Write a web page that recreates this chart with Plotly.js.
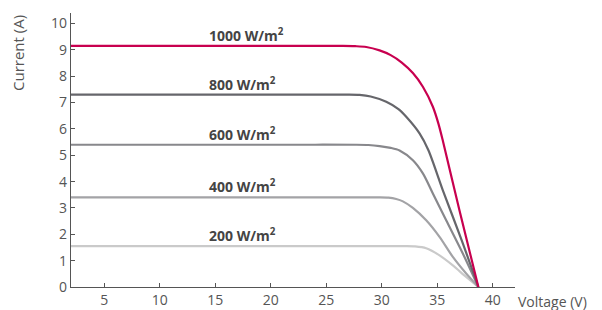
<!DOCTYPE html>
<html>
<head>
<meta charset="utf-8">
<script src="https://cdn.plot.ly/plotly-3.0.1.min.js"></script>
<style>html,body{margin:0;padding:0;background:#fff;}#chart{width:602px;height:310px;}</style>
</head>
<body>
<div id="chart"></div>
<script>
// Data (Voltage V, Current A)
const seriesNames = ["1000 W/m<sup>2</sup>", "800 W/m<sup>2</sup>", "600 W/m<sup>2</sup>", "400 W/m<sup>2</sup>", "200 W/m<sup>2</sup>"];
const v1000 = [2, 24, 26.5, 27.6, 28.6, 29.8, 30.8, 31.8, 32.8, 33.7, 34.6, 35.1, 35.5, 37.0, 38.7];
const i1000 = [9.15, 9.15, 9.15, 9.14, 9.11, 8.98, 8.80, 8.52, 8.12, 7.6, 6.84, 6.2, 5.55, 2.9, 0];
const v800 = [2, 24, 26.8, 28.0, 29.0, 30.4, 31.5, 32.2, 33.4, 34.2, 35.5, 37.2, 38.7];
const i800 = [7.3, 7.3, 7.3, 7.29, 7.23, 7.03, 6.75, 6.46, 5.83, 5.19, 3.67, 1.77, 0];
const v600 = [2, 24, 27.6, 28.8, 29.8, 30.8, 31.6, 32.8, 33.7, 34.6, 35.8, 37.3, 38.7];
const i600 = [5.4, 5.4, 5.4, 5.39, 5.35, 5.28, 5.18, 4.81, 4.31, 3.55, 2.53, 1.27, 0];
const v400 = [2, 26, 29.6, 30.6, 31.3, 31.9, 32.8, 34.0, 35.2, 36.4, 37.6, 38.7];
const i400 = [3.4, 3.4, 3.4, 3.39, 3.34, 3.25, 3.0, 2.53, 1.90, 1.14, 0.51, 0];
const v200 = [2, 28, 32.0, 33.0, 34.0, 35.2, 36.4, 37.6, 38.7];
const i200 = [1.55, 1.55, 1.55, 1.54, 1.47, 1.20, 0.82, 0.38, 0];
const xTicks = [5, 10, 15, 20, 25, 30, 35, 40];
const yTicks = [0, 1, 2, 3, 4, 5, 6, 7, 8, 9, 10];

const volts = [v1000, v800, v600, v400, v200];
const amps = [i1000, i800, i600, i400, i200];
const colors = ["#c8004f", "#66666b", "#88888c", "#a3a3a6", "#cacaca"];

const traces = volts.map((v, k) => ({
  x: v, y: amps[k], type: "scatter", mode: "lines",
  line: {color: colors[k], width: 2.2, shape: "spline", smoothing: 0.8},
  hoverinfo: "skip", showlegend: false
})).reverse();

const labelAnns = seriesNames.map((name, k) => ({
  x: 14.25, y: amps[k][0], xref: "x", yref: "y",
  xanchor: "left", yanchor: "bottom", yshift: -1,
  text: name, showarrow: false,
  font: {family: "Open Sans", size: 14, color: "#444", weight: "bold"}
}));

const layout = {
  width: 602, height: 310,
  margin: {l: 71, r: 87, t: 13, b: 23, pad: 0},
  paper_bgcolor: "#fff", plot_bgcolor: "#fff",
  font: {family: "Open Sans", color: "#555"},
  xaxis: {
    range: [2, 42], tickvals: xTicks, ticktext: xTicks.map(String),
    ticks: "inside", ticklen: 4, tickcolor: "#555", tickwidth: 1,
    showline: true, linecolor: "#555", linewidth: 1.2,
    showgrid: false, zeroline: false,
    tickfont: {family: "Open Sans", size: 14, color: "#555"}
  },
  yaxis: {
    range: [0, 10.4], tickvals: yTicks, ticktext: yTicks.map(String),
    ticks: "inside", ticklen: 4, tickcolor: "#555", tickwidth: 1,
    showline: true, linecolor: "#555", linewidth: 1.2,
    showgrid: false, zeroline: false,
    tickfont: {family: "Open Sans", size: 14, color: "#555"}
  },
  annotations: labelAnns.concat([
    {text: "Current (A)", xref: "paper", yref: "paper", x: 0, y: 1,
     xanchor: "center", yanchor: "top", xshift: -53, yshift: 0, textangle: -90,
     showarrow: false, font: {family: "Open Sans", size: 15, color: "#555"}},
    {text: "Voltage (V)", xref: "paper", yref: "paper", x: 1, y: 0,
     xanchor: "left", yanchor: "middle", xshift: 2, yshift: -14, borderpad: 0,
     showarrow: false, font: {family: "Open Sans", size: 14, color: "#555"}}
  ])
};

Plotly.newPlot("chart", traces, layout, {staticPlot: true, displayModeBar: false});
</script>
</body>
</html>
